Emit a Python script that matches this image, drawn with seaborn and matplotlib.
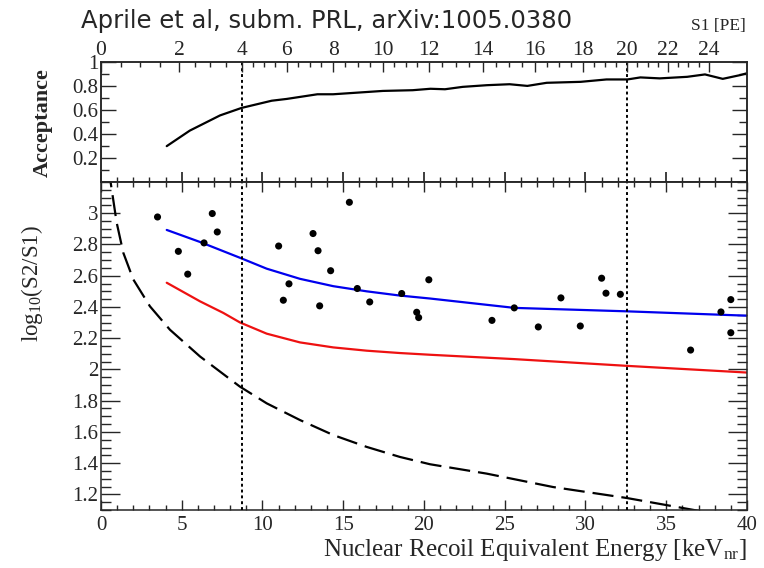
import numpy as np
import pandas as pd
import matplotlib
matplotlib.use("Agg")
import matplotlib.pyplot as plt
import seaborn as sns
from matplotlib.ticker import MultipleLocator, FixedLocator

# ---------------- data ----------------
# acceptance curve (top panel)
acc_energy = [4.07, 5.5, 7.37, 8.71, 10.57, 11.5, 13.4, 14.37, 17.46, 19.3, 20.4,
              21.3, 22.4, 23.9, 25.3, 26.4, 27.6, 29.7, 31.3, 32.6, 33.4, 34.6,
              36.3, 37.4, 38.5, 39.6, 40.0]
acc_value = [0.30, 0.43, 0.557, 0.62, 0.68, 0.695, 0.734, 0.734, 0.762, 0.768, 0.78,
             0.776, 0.796, 0.81, 0.818, 0.804, 0.83, 0.838, 0.858, 0.858, 0.875, 0.867,
             0.88, 0.90, 0.863, 0.895, 0.91]

# events (bottom panel)
evt_energy = [3.5, 4.79, 5.37, 6.38, 6.89, 7.2, 11.0, 11.29, 11.64, 13.13, 13.44,
              13.54, 14.22, 15.38, 15.87, 16.64, 18.62, 19.55, 19.67, 20.3, 24.21,
              25.59, 27.08, 28.48, 29.68, 31.0, 31.27, 32.16, 36.51, 38.39, 39.0, 39.0]
evt_log = [2.976, 2.756, 2.61, 2.81, 2.998, 2.88, 2.79, 2.443, 2.548, 2.87, 2.76,
           2.407, 2.632, 3.07, 2.518, 2.432, 2.486, 2.366, 2.332, 2.574, 2.314,
           2.394, 2.272, 2.458, 2.278, 2.584, 2.488, 2.481, 2.124, 2.368, 2.447, 2.235]

# band lines
blue_energy = [4.07, 6.13, 8.6, 10.26, 12.32, 14.38, 16.45, 18.5, 20.37, 25.6,
               32.55, 40.0]
blue_log = [2.893, 2.816, 2.715, 2.645, 2.58, 2.533, 2.50, 2.473, 2.454, 2.394,
            2.372, 2.344]
red_energy = [4.07, 6.13, 7.57, 8.6, 10.26, 12.32, 14.38, 16.45, 18.5, 20.37, 25.6,
              32.55, 40.0]
red_log = [2.555, 2.436, 2.362, 2.301, 2.229, 2.173, 2.141, 2.12, 2.105, 2.094, 2.066,
           2.023, 1.98]
dash_energy = [0.45, 0.66, 0.97, 1.38, 2.0, 3.03, 4.27, 6.13, 8.6, 10.26, 12.32, 14.38,
               16.45, 18.5, 20.37, 23.88, 28.0, 32.55, 36.88, 40.0]
dash_log = [3.3, 3.154, 2.94, 2.747, 2.576, 2.404, 2.254, 2.083, 1.89, 1.783, 1.676,
            1.58, 1.504, 1.44, 1.393, 1.333, 1.247, 1.177, 1.097, 1.04]

# S1 threshold lines (in keVnr)
cut_energy = [8.71, 32.6]

# secondary S1 axis: labels and their keVnr positions
s1_ticks = [0, 2, 4, 6, 8, 10, 12, 14, 16, 18, 20, 22, 24]
s1_tick_energy = [0.0, 4.83, 8.71, 11.5, 14.37, 17.44, 20.3, 23.65, 26.87, 29.85,
                  32.59, 35.1, 37.65]

bottom_yticks = [1.2, 1.4, 1.6, 1.8, 2.0, 2.2, 2.4, 2.6, 2.8, 3.0]
bottom_ytick_labels = ["1.2", "1.4", "1.6", "1.8", "2", "2.2", "2.4", "2.6", "2.8", "3"]
top_yticks = [0.2, 0.4, 0.6, 0.8, 1.0]
top_ytick_labels = ["0.2", "0.4", "0.6", "0.8", "1"]

title_text = "Aprile et al, subm. PRL, arXiv:1005.0380"

# ---------------- style ----------------
sns.set_theme(style="ticks")
plt.rcParams['font.family'] = ['Liberation Serif', 'DejaVu Serif']
plt.rcParams['mathtext.default'] = 'regular'
plt.rcParams['axes.linewidth'] = 1.1

fig = plt.figure(figsize=(7.64, 5.68), dpi=100)
ax1 = fig.add_axes([0.1322, 0.6796, 0.8455, 0.2104])
ax2 = fig.add_axes([0.1322, 0.1021, 0.8455, 0.5775])

df_acc = pd.DataFrame({"E": acc_energy, "acc": acc_value})
sns.lineplot(data=df_acc, x="E", y="acc", ax=ax1, color="black", lw=1.6,
             sort=False, estimator=None)

df_evt = pd.DataFrame({"E": evt_energy, "v": evt_log})
df_blue = pd.DataFrame({"E": blue_energy, "v": blue_log})
df_red = pd.DataFrame({"E": red_energy, "v": red_log})
df_dash = pd.DataFrame({"E": dash_energy, "v": dash_log})

sns.lineplot(data=df_dash, x="E", y="v", ax=ax2, color="black", lw=1.6,
             sort=False, estimator=None, linestyle=(0, (9.5, 3.6)))
sns.lineplot(data=df_blue, x="E", y="v", ax=ax2, color="#0000ee", lw=1.6,
             sort=False, estimator=None)
sns.lineplot(data=df_red, x="E", y="v", ax=ax2, color="#ee1111", lw=1.6,
             sort=False, estimator=None)
sns.scatterplot(data=df_evt, x="E", y="v", ax=ax2, color="black", s=26,
                edgecolor="none", zorder=5)

for ax in (ax1, ax2):
    for c in cut_energy:
        ax.axvline(c, color="black", lw=1.4, linestyle=(0, (1.5, 1.5)), zorder=4)
    ax.set_xlim(0, 40)
    ax.xaxis.set_major_locator(MultipleLocator(5))
    ax.xaxis.set_minor_locator(MultipleLocator(1))
    for s in ax.spines.values():
        s.set_visible(True)
        s.set_linewidth(1.1)

ax1.set_ylim(0, 1)
ax1.yaxis.set_major_locator(FixedLocator(top_yticks))
ax1.yaxis.set_minor_locator(MultipleLocator(0.1))
ax1.set_yticklabels(top_ytick_labels)
ax1.tick_params(axis='x', which='both', direction='in', bottom=True, top=False,
                labelbottom=False)
ax1.tick_params(axis='x', which='major', length=7)
ax1.tick_params(axis='x', which='minor', length=3.6)
ax1.tick_params(axis='y', which='both', direction='in', left=True, right=True,
                labelsize=15, pad=2)
ax1.tick_params(axis='y', which='major', length=11, width=1)
ax1.tick_params(axis='y', which='minor', length=5.5, width=1)
ax1.set_xlabel("")
ax1.set_ylabel("Acceptance", fontsize=16, fontweight="bold")
ax1.yaxis.set_label_coords(-0.074, 0.5)

ax2.set_ylim(1.1, 3.2)
ax2.yaxis.set_major_locator(FixedLocator(bottom_yticks))
ax2.set_yticklabels(bottom_ytick_labels)
ax2.yaxis.set_minor_locator(MultipleLocator(0.05))
ax2.tick_params(axis='x', which='both', direction='in', bottom=True, top=True,
                labelsize=15, pad=4)
ax2.tick_params(axis='x', which='major', length=7, width=1)
ax2.tick_params(axis='x', which='minor', length=3.6, width=1)
ax2.tick_params(axis='y', which='both', direction='in', left=True, right=True,
                labelsize=15, pad=2)
ax2.tick_params(axis='y', which='major', length=14, width=1)
ax2.tick_params(axis='y', which='minor', length=7, width=1)
ax2.set_xlabel("Nuclear Recoil Equivalent Energy [keV$_{nr}$]", fontsize=18)
ax2.xaxis.set_label_coords(1.0, -0.083)
ax2.xaxis.label.set_ha("right")
ax2.xaxis.label.set_va("top")
ax2.set_ylabel("log$_{10}$(S2/S1)", fontsize=16.5)
ax2.yaxis.set_label_coords(-0.087, 0.69)

# secondary S1 axis on top of the top panel
ax1t = ax1.twiny()
ax1t.set_xlim(0, 40)
ax1t.xaxis.set_major_locator(FixedLocator(s1_tick_energy))
ax1t.set_xticklabels([str(v) for v in s1_ticks])
s1_minor = np.arange(0, 25.6, 0.5)
ax1t.xaxis.set_minor_locator(FixedLocator(np.interp(s1_minor, s1_ticks, s1_tick_energy,
                                                    right=np.nan)))
ax1t.tick_params(axis='x', which='both', direction='in', labelsize=15.5, pad=2)
ax1t.tick_params(axis='x', which='major', length=7, width=1)
ax1t.tick_params(axis='x', which='minor', length=3.6, width=1)
for s in ax1t.spines.values():
    s.set_linewidth(1.1)

fig.text(0.427, 0.963, title_text, fontsize=17.5, family="DejaVu Sans",
         ha="center", va="center")
fig.text(0.976, 0.954, "S1 [PE]", fontsize=12.5, ha="right", va="center")

fig.savefig("out.png", dpi=100)
